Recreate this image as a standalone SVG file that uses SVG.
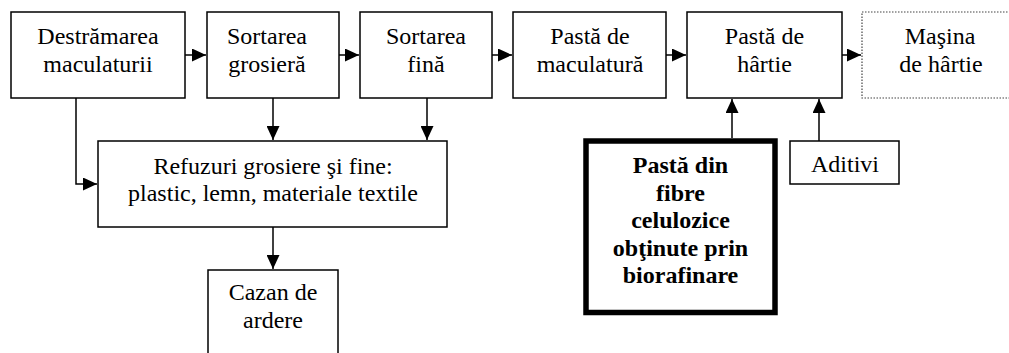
<svg xmlns="http://www.w3.org/2000/svg" width="1009" height="353" viewBox="0 0 1009 353">
<style>
.box{fill:#fff;stroke:#000;stroke-width:1.5}
.dot{fill:#fff;stroke:#444;stroke-width:1.2;stroke-dasharray:1.5 1.5}
.thick{fill:#fff;stroke:#000;stroke-width:5.5}
.t{font-family:'Liberation Serif','Times New Roman',serif;font-size:24px;fill:#000;text-anchor:middle}
.b{font-weight:bold}
.c{fill:none;stroke:#000;stroke-width:1.5}
</style>
<defs>
<marker id="ah" markerUnits="userSpaceOnUse" markerWidth="15" markerHeight="13" refX="14" refY="6.5" orient="auto">
<path d="M0,0 L14,6.5 L0,13 z" fill="#000"/>
</marker>
</defs>
<rect width="1009" height="353" fill="#fff"/>
<g id="connectors">
<path class="c" d="M185,55 H206" marker-end="url(#ah)"/>
<path class="c" d="M339,55 H359" marker-end="url(#ah)"/>
<path class="c" d="M492,55 H512" marker-end="url(#ah)"/>
<path class="c" d="M666,55 H686" marker-end="url(#ah)"/>
<path class="c" d="M842,55 H861" marker-end="url(#ah)"/>
<path class="c" d="M76,98 V184 H97" marker-end="url(#ah)"/>
<path class="c" d="M273,98 V140" marker-end="url(#ah)"/>
<path class="c" d="M427,98 V140" marker-end="url(#ah)"/>
<path class="c" d="M273,227 V269" marker-end="url(#ah)"/>
<path class="c" d="M732,138 V99" marker-end="url(#ah)"/>
<path class="c" d="M819,141 V99" marker-end="url(#ah)"/>
</g>
<g id="n1">
<rect class="box" x="11" y="12" width="174" height="86"/>
<text class="t" x="98" y="44">Destrămarea</text>
<text class="t" x="98" y="72">maculaturii</text>
</g>
<g id="n2">
<rect class="box" x="207" y="12" width="132" height="86"/>
<text class="t" x="267" y="44">Sortarea</text>
<text class="t" x="267" y="72">grosieră</text>
</g>
<g id="n3">
<rect class="box" x="360" y="12" width="132" height="86"/>
<text class="t" x="426" y="44">Sortarea</text>
<text class="t" x="426" y="72">fină</text>
</g>
<g id="n4">
<rect class="box" x="513" y="12" width="153" height="86"/>
<text class="t" x="590" y="44">Pastă de</text>
<text class="t" x="590" y="72">maculatură</text>
</g>
<g id="n5">
<rect class="box" x="687" y="12" width="155" height="86"/>
<text class="t" x="764.5" y="44">Pastă de</text>
<text class="t" x="764.5" y="72">hârtie</text>
</g>
<g id="n6">
<rect class="dot" x="862" y="12" width="160" height="86"/>
<text class="t" x="940" y="44">Maşina</text>
<text class="t" x="941" y="72">de hârtie</text>
</g>
<g id="n7">
<rect class="box" x="98" y="141" width="349" height="86"/>
<text class="t" x="273" y="173.5">Refuzuri grosiere şi fine:</text>
<text class="t" x="273" y="201">plastic, lemn, materiale textile</text>
</g>
<g id="n8">
<rect class="box" x="208" y="270" width="130" height="100"/>
<text class="t" x="273" y="300">Cazan de</text>
<text class="t" x="273" y="328">ardere</text>
</g>
<g id="n9">
<rect class="thick" x="586" y="141" width="189" height="171.5"/>
<text class="t b" x="680.5" y="173">Pastă din</text>
<text class="t b" x="680.5" y="200.5">fibre</text>
<text class="t b" x="680.5" y="228">celulozice</text>
<text class="t b" x="680.5" y="255.5">obţinute prin</text>
<text class="t b" x="680.5" y="283">biorafinare</text>
</g>
<g id="n10">
<rect class="box" x="790" y="141" width="109" height="43"/>
<text class="t" x="845" y="172">Aditivi</text>
</g>
</svg>
